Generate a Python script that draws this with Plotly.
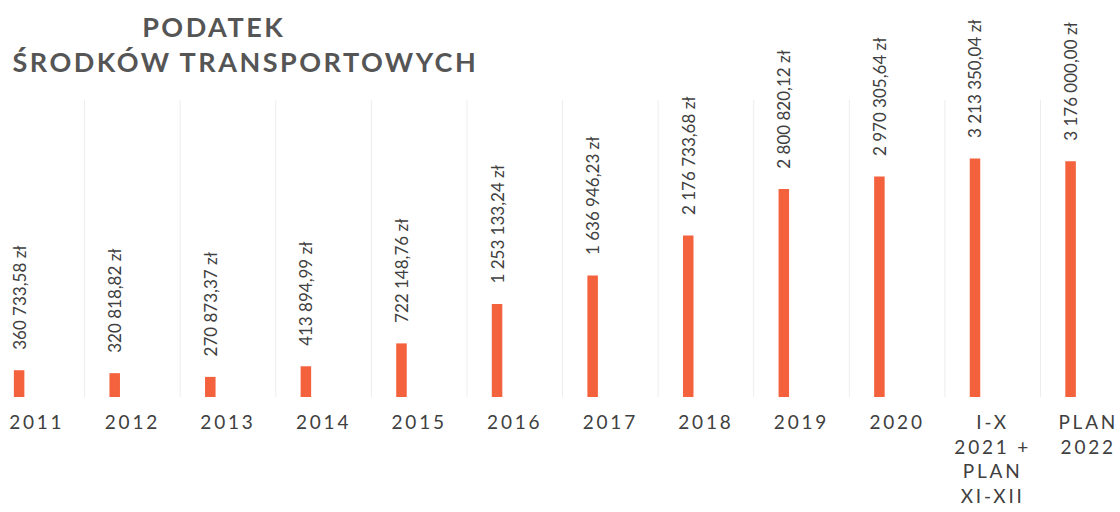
import plotly.graph_objects as go

categories = ["2011", "2012", "2013", "2014", "2015", "2016", "2017", "2018",
              "2019", "2020", "I-X 2021 + PLAN XI-XII", "PLAN 2022"]
tick_labels = ["2011", "2012", "2013", "2014", "2015", "2016", "2017", "2018",
               "2019", "2020", "I-X<br>2021 +<br>PLAN<br>XI-XII", "PLAN<br>2022"]
values = [360733.58, 320818.82, 270873.37, 413894.99, 722148.76, 1253133.24,
          1636946.23, 2176733.68, 2800820.12, 2970305.64, 3213350.04, 3176000.00]
title_lines = ["PODATEK", "ŚRODKÓW TRANSPORTOWYCH"]


def fmt(v):
    s = f"{v:,.2f}"
    return s.replace(",", " ").replace(".", ",") + " zł"


# leading no-break spaces keep the rotated label a little above the bar
texts = ["\u00a0\u00a0\u00a0\u00a0" + fmt(v) for v in values]
xpos = list(range(len(categories)))

# first title line sits slightly left of the second in the original
title_text = title_lines[0] + "\u00a0" * 7 + "<br>" + title_lines[1]

fig = go.Figure()
fig.add_trace(go.Bar(
    x=xpos, y=values, text=texts,
    width=0.11, offset=-0.24,
    marker=dict(color="#F4613D", line=dict(width=0)),
    textposition="outside", textangle=-90, constraintext="none",
    cliponaxis=False,
    textfont=dict(family="Lato", size=17, color="#404040"),
    hoverinfo="skip",
))

fig.update_layout(
    width=1120, height=512,
    margin=dict(l=0, r=0, t=100, b=115),
    paper_bgcolor="white", plot_bgcolor="white",
    showlegend=False,
    xaxis=dict(
        range=[-0.385, 11.332], automargin=False,
        tickmode="array", tickvals=xpos, ticktext=tick_labels,
        tickfont=dict(family="Lato", size=19, color="#404040"),
        showgrid=False, zeroline=False, showline=False,
        ticks="", ticklabelstandoff=12,
    ),
    yaxis=dict(range=[0, 4000000], visible=False, showgrid=False,
               automargin=False),
    annotations=[dict(
        text=title_text, xref="paper", yref="paper",
        x=245 / 1120, y=(397 - 8) / 297, xanchor="center", yanchor="top",
        showarrow=False, align="center",
        font=dict(family="Lato", size=27, color="#555555", weight="bold"),
    )],
)

# faint vertical separators between categories
for i in range(len(categories) - 1):
    fig.add_shape(type="line", xref="x", yref="paper",
                  x0=i + 0.5, x1=i + 0.5, y0=0, y1=1,
                  line=dict(color="#EDEDED", width=1), layer="below")

post = """
document.body.style.margin = '0';
document.body.style.padding = '0';
var gd = document.getElementById('{plot_id}');
function ls(){
  gd.querySelectorAll('.xtick text').forEach(function(t){t.style.letterSpacing='2.8px';});
  gd.querySelectorAll('.annotation-text').forEach(function(t){t.style.letterSpacing='2.5px';});
}
ls();
gd.on('plotly_afterplot', ls);
"""
fig.write_html("out.html", post_script=post, config={"displayModeBar": False})
